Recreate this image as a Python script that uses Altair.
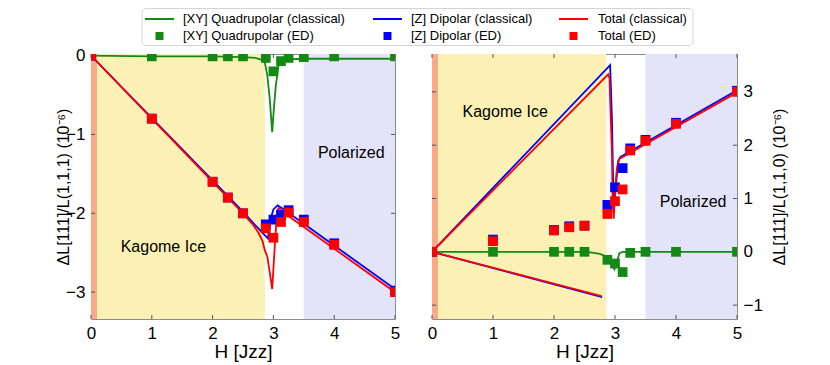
import altair as alt
import pandas as pd

# ---------------- data ----------------
ED_X = [0, 1, 2, 2.25, 2.5, 2.875, 3.0, 3.125, 3.25, 3.5, 4, 5]

# left panel: (1,1,1)
L_GREEN_ED = [0, -0.01, -0.01, -0.01, -0.01, -0.03, -0.2, -0.07, -0.03, -0.02, -0.01, -0.01]
L_BLUE_ED = [0, -0.8, -1.6, -1.8, -2.0, -2.14, -2.08, -2.02, -1.96, -2.08, -2.38, -2.98]
L_RED_ED = [0, -0.8, -1.6, -1.8, -2.0, -2.19, -2.31, -2.11, -1.99, -2.11, -2.4, -3.0]

L_GREEN_CL_X = [0, 1, 2, 2.5, 2.7, 2.8, 2.86, 2.9, 2.94, 2.98, 3.01, 3.04, 3.09, 3.15, 3.5, 4, 5]
L_GREEN_CL_Y = [0, -0.01, -0.01, -0.02, -0.03, -0.05, -0.09, -0.25, -0.55, -0.97, -0.65, -0.38, -0.09, -0.05, -0.04, -0.04, -0.04]
L_BLUE_CL_X = [0, 2.5, 2.7, 2.8, 2.91, 2.95, 3.0, 3.07, 3.15, 5]
L_BLUE_CL_Y = [0, -1.98, -2.15, -2.23, -2.32, -2.08, -1.95, -1.9, -1.94, -2.96]
L_RED_CL_X = [0, 2.5, 2.65, 2.75, 2.82, 2.86, 2.9, 2.94, 2.98, 3.02, 3.06, 3.09, 3.15, 5]
L_RED_CL_Y = [0, -2.0, -2.13, -2.24, -2.35, -2.47, -2.55, -2.75, -2.96, -2.45, -1.97, -1.93, -1.98, -3.0]

# right panel: (1,1,0)
R_GREEN_ED = [0, 0, 0, 0, 0, -0.15, -0.22, -0.38, -0.02, 0, 0, 0]
R_BLUE_ED = [0, 0.23, 0.41, 0.48, 0.49, 0.88, 1.21, 1.57, 1.94, 2.1, 2.42, 3.02]
R_RED_ED = [0, 0.2, 0.4, 0.46, 0.49, 0.71, 0.95, 1.17, 1.9, 2.08, 2.4, 3.0]

R_GREEN_CL_X = [0, 1, 2, 2.5, 2.6, 2.75, 2.87, 2.95, 2.99, 3.03, 3.07, 3.12, 4, 5]
R_GREEN_CL_Y = [0, 0, 0, 0, -0.01, -0.04, -0.09, -0.25, -0.33, -0.2, -0.03, 0, 0, 0]
R_BLUE_CL_X = [0, 2.92, 2.95, 2.97, 2.99, 3.02, 3.05, 3.09, 5]
R_BLUE_CL_Y = [0, 3.5, 2.5, 1.25, 0.9, 1.3, 1.7, 1.78, 3.03]
R_BLUE_LOW_X = [0, 2.79]
R_BLUE_LOW_Y = [0, -0.85]
R_RED_CL_X = [0, 2.89, 2.91, 2.93, 2.95, 2.96, 2.98, 3.0, 3.03, 3.07, 5]
R_RED_CL_Y = [0, 3.33, 3.25, 2.5, 1.87, 1.0, 0.62, 1.12, 1.56, 1.74, 2.99]
R_RED_LOW_X = [0, 2.78]
R_RED_LOW_Y = [0, -0.83]

# phase regions
BAND_START = [0, 0.1, 3.5]
BAND_END = [0.1, 2.86, 5]
BAND_COLOR = ["#FBAA85", "#FCF1B4", "#E3E3F9"]

# annotations
L_TEXT = ["Kagome Ice", "Polarized"]
L_TEXT_X = [1.19, 4.28]
L_TEXT_Y = [-2.43, -1.23]
R_TEXT = ["Kagome Ice", "Polarized"]
R_TEXT_X = [1.2, 4.28]
R_TEXT_Y = [2.62, 0.93]

X_TICKS = [0, 1, 2, 3, 4, 5]
L_Y_TICKS = [0, -1, -2, -3]
R_Y_TICKS = [-1, 0, 1, 2, 3]

LEG_LABELS = ["[XY] Quadrupolar (classical)", "[Z] Dipolar (classical)", "Total (classical)",
              "[XY] Quadrupolar (ED)", "[Z] Dipolar (ED)", "Total (ED)"]

GREEN, BLUE, RED = "#148A14", "#0000FF", "#FF0000"
COLORS = [GREEN, BLUE, RED]
FONT = "Liberation Sans"

W_L, W_R, H = 304, 305, 265


def panel(width, ydom, yticks, ytitle, yorient, green_cl, blue_cl, red_cl, lows, eds, texts):
    xs = alt.Scale(domain=[0, 5], nice=False, zero=False)
    ys = alt.Scale(domain=ydom, nice=False, zero=False)
    xax = alt.Axis(values=X_TICKS, title="H [Jzz]", labelFlush=False, format="d", titlePadding=1)
    if yorient == "left":
        yax = alt.Axis(values=yticks, title=ytitle, orient="left", format="d", titlePadding=-6)
    else:
        yax = alt.Axis(values=yticks, title=ytitle, orient="right", format="d", titlePadding=9,
                       titleAngle=270, titleBaseline="top")
    X = alt.X("x:Q", scale=xs, axis=xax)
    Y = alt.Y("y:Q", scale=ys, axis=yax)

    bands = pd.DataFrame({"x": BAND_START, "x2": BAND_END, "c": BAND_COLOR})
    layers = [
        alt.Chart(bands).mark_rect().encode(
            x=X, x2="x2:Q", y=alt.value(0), y2=alt.value(H),
            color=alt.Color("c:N", scale=None))
    ]
    # inward ticks
    xt = pd.DataFrame({"x": X_TICKS})
    yt = pd.DataFrame({"y": yticks})
    tcol = "#555555"
    layers += [
        alt.Chart(xt).mark_rule(color=tcol, strokeWidth=1).encode(x=X, y=alt.value(0), y2=alt.value(4)),
        alt.Chart(xt).mark_rule(color=tcol, strokeWidth=1).encode(x=X, y=alt.value(H), y2=alt.value(H - 4)),
        alt.Chart(yt).mark_rule(color=tcol, strokeWidth=1).encode(y=Y, x=alt.value(0), x2=alt.value(4)),
        alt.Chart(yt).mark_rule(color=tcol, strokeWidth=1).encode(y=Y, x=alt.value(width), x2=alt.value(width - 4)),
    ]
    # text annotations
    tdf = pd.DataFrame({"x": texts[1], "y": texts[2], "t": texts[0]})
    layers.append(alt.Chart(tdf).mark_text(font=FONT, fontSize=16, color="black").encode(x=X, y=Y, text="t:N"))

    # classical lines
    for (cx, cy), col in zip([green_cl] + [blue_cl] + [red_cl], COLORS):
        df = pd.DataFrame({"x": cx, "y": cy, "o": range(len(cx))})
        layers.append(alt.Chart(df).mark_line(color=col, strokeWidth=1.8, clip=True).encode(x=X, y=Y, order="o:Q"))
    for (cx, cy), col in lows:
        df = pd.DataFrame({"x": cx, "y": cy, "o": range(len(cx))})
        layers.append(alt.Chart(df).mark_line(color=col, strokeWidth=1.8, clip=True).encode(x=X, y=Y, order="o:Q"))
    # ED squares
    for ey, col in zip(eds, COLORS):
        df = pd.DataFrame({"x": ED_X, "y": ey})
        layers.append(alt.Chart(df).mark_square(color=col, size=95, opacity=1, clip=True).encode(x=X, y=Y))
    return alt.layer(*layers).properties(width=width, height=H)


left = panel(W_L, [-3.34, 0.02], L_Y_TICKS, "ΔL[111]/L(1,1,1) (10⁻⁶)", "left",
             (L_GREEN_CL_X, L_GREEN_CL_Y), (L_BLUE_CL_X, L_BLUE_CL_Y), (L_RED_CL_X, L_RED_CL_Y),
             [], [L_GREEN_ED, L_BLUE_ED, L_RED_ED], (L_TEXT, L_TEXT_X, L_TEXT_Y))
right = panel(W_R, [-1.26, 3.71], R_Y_TICKS, "ΔL[111]/L(1,1,0) (10⁻⁶)", "right",
              (R_GREEN_CL_X, R_GREEN_CL_Y), (R_BLUE_CL_X, R_BLUE_CL_Y), (R_RED_CL_X, R_RED_CL_Y),
              [((R_BLUE_LOW_X, R_BLUE_LOW_Y), BLUE), ((R_RED_LOW_X, R_RED_LOW_Y), RED)],
              [R_GREEN_ED, R_BLUE_ED, R_RED_ED], (R_TEXT, R_TEXT_X, R_TEXT_Y))

# ---------------- legend ----------------
BOX_X0, BOX_W = 51, 551
LW, LH = BOX_X0 + BOX_W + 4, 38
LEG_COL_X0 = [3, 231, 417]
LEG_LINE_LEN = 29
LEG_TEXT_X = [41, 269, 456]
LEG_ROW_Y = [11, 28]
rows = []
for i, lab in enumerate(LEG_LABELS):
    c, r = i % 3, i // 3
    rows.append({"lab": lab, "col": COLORS[c], "kind": "line" if r == 0 else "sq",
                 "x0": BOX_X0 + LEG_COL_X0[c], "x1": BOX_X0 + LEG_COL_X0[c] + LEG_LINE_LEN,
                 "xm": BOX_X0 + LEG_COL_X0[c] + LEG_LINE_LEN / 2, "xt": BOX_X0 + LEG_TEXT_X[c],
                 "y": LEG_ROW_Y[r]})
ldf = pd.DataFrame(rows)
box = pd.DataFrame({"x0": [BOX_X0], "x1": [BOX_X0 + BOX_W], "y0": [0.5], "y1": [LH - 0.5]})
lx = alt.Scale(domain=[0, LW], nice=False, zero=False)
ly = alt.Scale(domain=[0, LH], range=[0, LH], nice=False, zero=False)
legend = alt.layer(
    alt.Chart(box).mark_rect(fill="white", stroke="#d4d4d4", strokeWidth=1, cornerRadius=4).encode(
        x=alt.X("x0:Q", scale=lx, axis=None), x2="x1:Q",
        y=alt.Y("y0:Q", scale=ly, axis=None), y2="y1:Q"),
    alt.Chart(ldf).transform_filter("datum.kind == 'line'").mark_rule(strokeWidth=2).encode(
        x=alt.X("x0:Q", scale=lx, axis=None), x2="x1:Q", y=alt.Y("y:Q", scale=ly, axis=None),
        color=alt.Color("col:N", scale=None)),
    alt.Chart(ldf).transform_filter("datum.kind == 'sq'").mark_square(size=64, opacity=1).encode(
        x=alt.X("xm:Q", scale=lx, axis=None), y=alt.Y("y:Q", scale=ly, axis=None),
        color=alt.Color("col:N", scale=None)),
    alt.Chart(ldf).mark_text(align="left", baseline="middle", font=FONT, fontSize=13, color="black").encode(
        x=alt.X("xt:Q", scale=lx, axis=None), y=alt.Y("y:Q", scale=ly, axis=None), text="lab:N"),
).properties(width=LW, height=LH, view=alt.ViewBackground(strokeWidth=0))

chart = alt.vconcat(
    legend, alt.hconcat(left, right, spacing=25),
    spacing=0
).properties(
    padding={"left": 47, "top": 0, "right": 5, "bottom": 2}
).configure_view(
    stroke="#8c8c8c"
).configure_axis(
    domain=False, ticks=False, grid=False,
    labelFont=FONT, labelFontSize=17, labelColor="black", labelPadding=6,
    titleFont=FONT, titleFontSize=19, titleFontWeight="normal", titleColor="black"
).configure_axisY(titleFontSize=16)

chart.save("out.html", embed_options={"renderer": "svg", "actions": False})
